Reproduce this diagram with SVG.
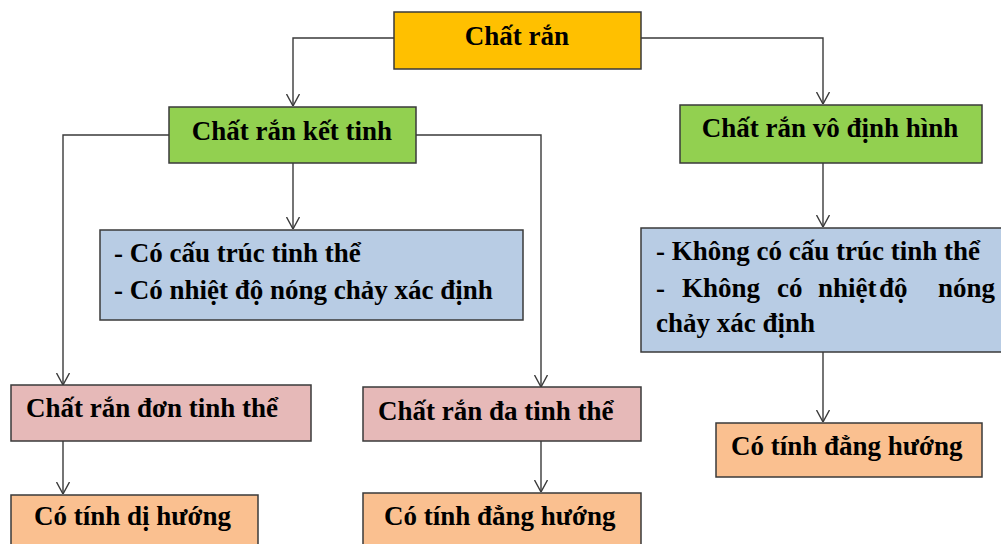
<svg xmlns="http://www.w3.org/2000/svg" width="1001" height="544" viewBox="0 0 1001 544">
<defs>
<marker id="arr" markerUnits="userSpaceOnUse" viewBox="0 0 12 14" refX="12" refY="7" markerWidth="12" markerHeight="14" orient="auto">
<path d="M0,0.5 L12,7 L0,13.5" fill="none" stroke="#3a3a3a" stroke-width="1.4"/>
</marker>
</defs>
<rect width="1001" height="544" fill="#fff"/>
<g id="connectors" fill="none" stroke="#3a3a3a" stroke-width="1.4" marker-end="url(#arr)">
<path d="M394,38 H293 V106"/>
<path d="M641,38 H823 V104"/>
<path d="M169,135 H63 V385"/>
<path d="M416,135 H541 V387"/>
<path d="M293,163 V229"/>
<path d="M823,163 V227"/>
<path d="M63,441 V494"/>
<path d="M541,441 V492"/>
<path d="M823,352 V422"/>
</g>
<g id="nodes" stroke-width="1.5" font-family="Liberation Serif" font-weight="bold" font-size="27" fill="#000">
<g id="chat-ran">
<rect x="394" y="12" width="247" height="57" fill="#FFC000" stroke="#3a3a3a"/>
<text x="517" y="45" text-anchor="middle">Chất rắn</text>
</g>
<g id="ket-tinh">
<rect x="169" y="107" width="247" height="56" fill="#92D050" stroke="#3a3a3a"/>
<text x="292" y="140" text-anchor="middle">Chất rắn kết tinh</text>
</g>
<g id="vo-dinh-hinh">
<rect x="680" y="105" width="302" height="58" fill="#92D050" stroke="#3a3a3a"/>
<text x="830" y="137" text-anchor="middle">Chất rắn vô định hình</text>
</g>
<g id="dac-diem-ket-tinh">
<rect x="100" y="230" width="423" height="90" fill="#B8CCE4" stroke="#3a3a3a"/>
<text x="114" y="262">- Có cấu trúc tinh thể</text>
<text x="114" y="299">- Có nhiệt độ nóng chảy xác định</text>
</g>
<g id="dac-diem-vo-dinh-hinh">
<rect x="641" y="228" width="364" height="124" fill="#B8CCE4" stroke="#3a3a3a"/>
<text x="656" y="260">- Không có cấu trúc tinh thể</text>
<text y="297"><tspan x="656">-</tspan><tspan x="682">Không</tspan><tspan x="777">có</tspan><tspan x="818">nhiệt</tspan><tspan x="879">độ</tspan><tspan x="938">nóng</tspan></text>
<text x="656" y="332">chảy xác định</text>
</g>
<g id="don-tinh-the">
<rect x="11" y="385" width="300" height="56" fill="#E6B9B8" stroke="#3a3a3a"/>
<text x="26" y="417">Chất rắn đơn tinh thể</text>
</g>
<g id="da-tinh-the">
<rect x="363" y="387" width="278" height="54" fill="#E6B9B8" stroke="#3a3a3a"/>
<text x="378" y="420">Chất rắn đa tinh thể</text>
</g>
<g id="di-huong">
<rect x="11" y="495" width="247" height="60" fill="#FAC090" stroke="#3a3a3a"/>
<text x="34" y="525">Có tính dị hướng</text>
</g>
<g id="dang-huong-1">
<rect x="363" y="493" width="278" height="62" fill="#FAC090" stroke="#3a3a3a"/>
<text x="384" y="525">Có tính đẳng hướng</text>
</g>
<g id="dang-huong-2">
<rect x="716" y="423" width="266" height="54" fill="#FAC090" stroke="#3a3a3a"/>
<text x="731" y="455">Có tính đẳng hướng</text>
</g>
</g>
</svg>
